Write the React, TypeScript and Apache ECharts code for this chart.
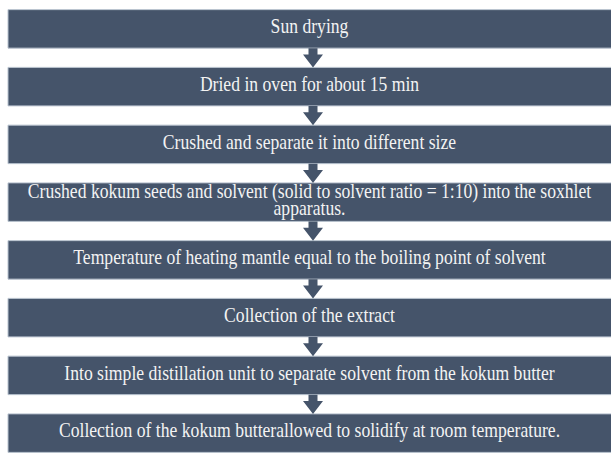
import React, { useEffect, useRef } from "react";
import * as echarts from "echarts";

const steps: string[] = [
  "Sun drying",
  "Dried in oven for about 15 min",
  "Crushed and separate it into different size",
  "Crushed kokum seeds and solvent (solid to solvent ratio = 1:10) into the soxhlet\napparatus.",
  "Temperature of heating mantle equal to the boiling point of solvent",
  "Collection of the extract",
  "Into simple distillation unit to separate solvent from the kokum butter",
  "Collection of the kokum butterallowed to solidify at room temperature.",
];

const stepIndex: number[] = steps.map((_, i) => i);

const BOX = "#45546a";
const EDGE = "#b9c3cf";
const TXT = "#f3f3f3";

export default function App() {
  const ref = useRef<HTMLDivElement>(null);
  useEffect(() => {
    if (!ref.current) return;
    const chart = echarts.init(ref.current, undefined, { renderer: "svg" });
    chart.setOption({
      animation: false,
      backgroundColor: "#ffffff",
      grid: { left: 8, right: 0, top: -3, bottom: -12 },
      xAxis: { type: "value", min: 0, max: 1, show: false },
      yAxis: { type: "category", data: steps, inverse: true, show: false },
      series: [
        {
          type: "custom",
          clip: false,
          data: stepIndex.map((i) => [0, i]),
          renderItem: (params: any, api: any) => {
            const i = api.value(1);
            const c = api.coord([0, i]);
            const cr = api.coord([1, i]);
            const band = api.size([0, 1])[1];
            const h = 38.5;
            const left = c[0];
            const right = cr[0] + 2;
            const cy = c[1];
            const top = cy - h / 2;
            const bottom = cy + h / 2;
            const mid = (left + cr[0]) / 2;
            const ax = mid + 3.5;
            const children: any[] = [
              {
                type: "rect",
                shape: { x: left, y: top, width: right - left, height: h },
                style: { fill: BOX, stroke: EDGE, lineWidth: 1 },
                z2: 1,
              },
            ];
            if (i < steps.length - 1) {
              const nextTop = cy + band - h / 2;
              const headH = 13;
              const hs = nextTop - headH;
              children.push({
                type: "polygon",
                shape: {
                  points: [
                    [ax - 4.5, bottom],
                    [ax + 4.5, bottom],
                    [ax + 4.5, hs],
                    [ax + 10, hs],
                    [ax, nextTop],
                    [ax - 10, hs],
                    [ax - 4.5, hs],
                  ],
                },
                style: { fill: BOX },
                z2: 2,
              });
            }
            children.push({
              type: "text",
              x: mid,
              y: cy - 2.8,
              scaleX: 0.86,
              z2: 5,
              style: {
                text: steps[i],
                fill: TXT,
                font: "20.5px 'Liberation Serif', serif",
                lineHeight: 17.5,
                textAlign: "center",
                textVerticalAlign: "middle",
              },
            });
            return { type: "group", children };
          },
        },
      ],
    });
    return () => chart.dispose();
  }, []);
  return (
    <div
      ref={ref}
      style={{ position: "fixed", left: 0, top: 0, width: 611, height: 462 }}
    />
  );
}
